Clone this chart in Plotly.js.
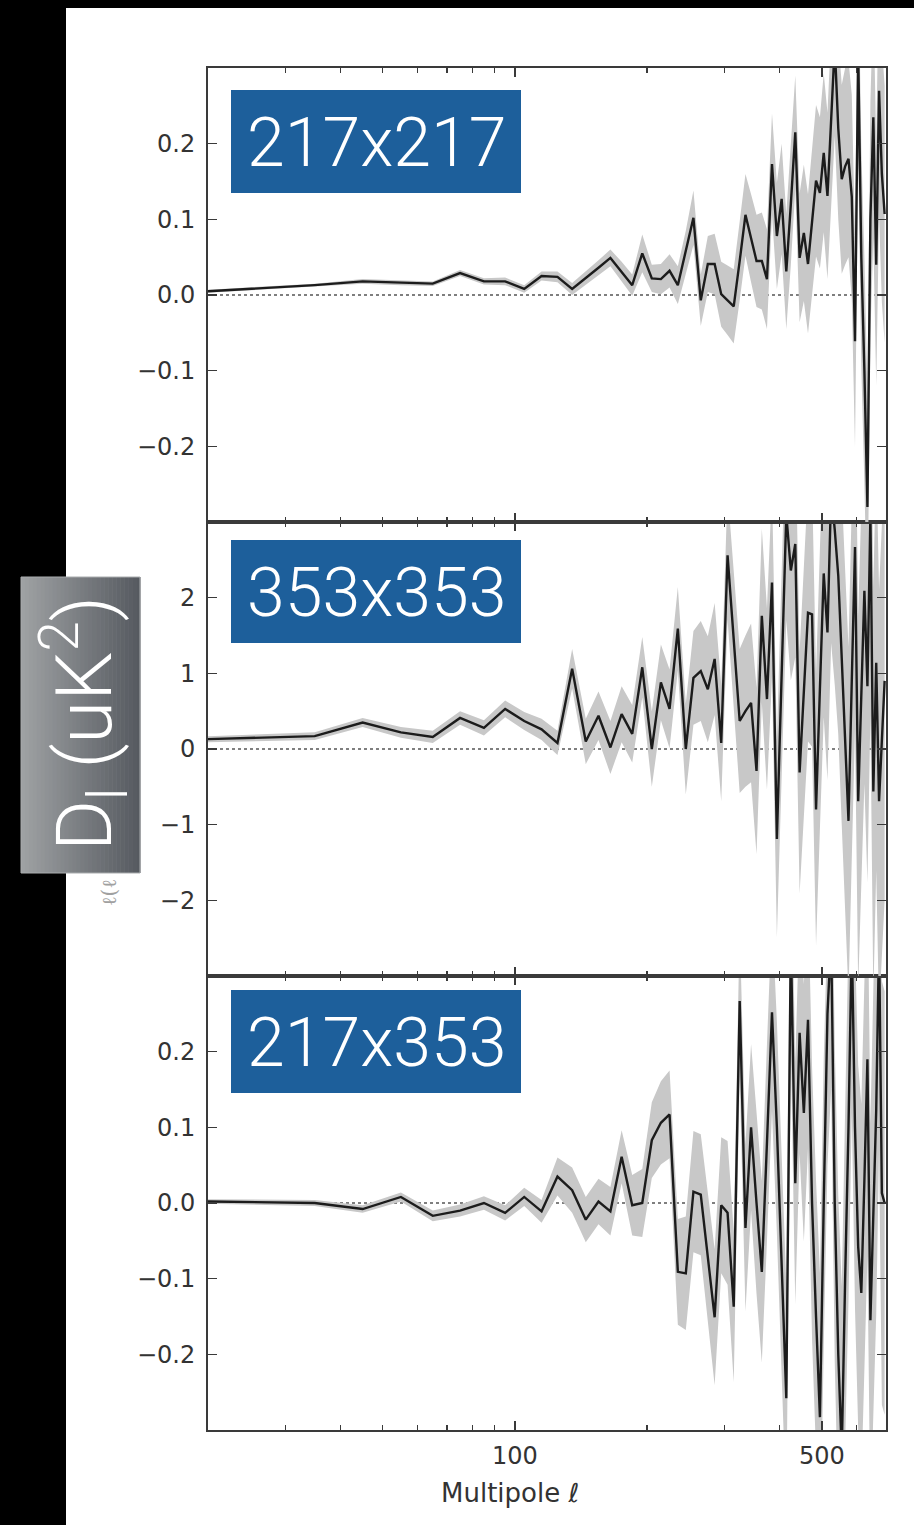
<!DOCTYPE html>
<html>
<head>
<meta charset="utf-8">
<script src="https://cdn.plot.ly/plotly-3.0.1.min.js"></script>
<style>
  html, body { margin: 0; padding: 0; background: #000; }
  #chart { width: 914px; height: 1525px; }
</style>
</head>
<body>
<div id="chart"></div>
<script>
// ---------- data ----------
const ell = [20, 35, 45, 55, 65, 75, 85, 95, 105, 115, 125, 135, 145, 155, 165, 175, 185, 195,
  205, 215, 225, 235, 245, 255, 265, 275, 285, 295, 305, 315, 325, 335, 345, 355, 365, 375,
  385, 395, 405, 415, 425, 435, 445, 455, 465, 475, 485, 495, 505, 515, 525, 535, 545, 555,
  565, 575, 585, 595, 605, 615, 625, 635, 645, 655, 665, 675, 685, 695];

const d217 = [0.005, 0.013, 0.018, 0.016, 0.015, 0.029, 0.018, 0.018, 0.008, 0.025, 0.024, 0.008,
  0.022, 0.036, 0.049, 0.031, 0.013, 0.055, 0.022, 0.021, 0.032, 0.013, 0.057, 0.102, -0.007,
  0.041, 0.041, 0.001, -0.007, -0.015, 0.045, 0.106, 0.075, 0.045, 0.045, 0.021, 0.173, 0.078,
  0.127, 0.031, 0.12, 0.215, 0.049, 0.082, 0.041, 0.095, 0.151, 0.135, 0.188, 0.131, 0.23, 0.33,
  0.22, 0.153, 0.17, 0.18, 0.13, -0.061, 0.32, 0.05, -0.1, -0.28, 0.1, 0.235, 0.04, 0.27, 0.16, 0.107];
const s217 = [0.002, 0.002, 0.003, 0.003, 0.003, 0.004, 0.004, 0.005, 0.005, 0.006, 0.007, 0.008,
  0.009, 0.010, 0.011, 0.013, 0.014, 0.025, 0.018, 0.020, 0.022, 0.025, 0.028, 0.036, 0.034,
  0.037, 0.040, 0.043, 0.046, 0.049, 0.052, 0.054, 0.058, 0.061, 0.064, 0.066, 0.067, 0.070,
  0.073, 0.076, 0.080, 0.075, 0.085, 0.090, 0.092, 0.095, 0.10, 0.10, 0.105, 0.11, 0.115, 0.12,
  0.12, 0.125, 0.13, 0.13, 0.135, 0.14, 0.14, 0.145, 0.15, 0.15, 0.155, 0.16, 0.16, 0.165, 0.17, 0.17];

const d353 = [0.13, 0.17, 0.35, 0.22, 0.16, 0.41, 0.28, 0.53, 0.37, 0.26, 0.08, 1.06, 0.10, 0.44,
  0.02, 0.46, 0.20, 1.08, 0.00, 0.88, 0.53, 1.59, 0.00, 0.94, 1.03, 0.79, 1.19, 0.08, 2.56, 1.45,
  0.37, 0.50, 0.61, -0.29, 1.76, 0.66, 2.20, -1.19, 0.90, 3.10, 2.36, 2.71, -0.31, 0.75, 1.80,
  1.78, -0.80, 0.80, 2.32, 1.54, 3.40, 2.90, 2.29, 1.20, 0.10, -0.95, 0.90, 2.67, -0.69, 0.70,
  2.09, 0.83, 3.10, -0.56, 1.14, -0.69, 0.20, 0.90];
const s353 = [0.04, 0.05, 0.06, 0.07, 0.08, 0.09, 0.10, 0.11, 0.12, 0.14, 0.16, 0.26, 0.30, 0.32,
  0.35, 0.37, 0.38, 0.40, 0.50, 0.50, 0.52, 0.55, 0.60, 0.62, 0.66, 0.70, 0.74, 0.77, 0.85, 0.90,
  0.95, 1.00, 1.05, 1.10, 1.15, 1.20, 1.25, 1.30, 1.35, 1.40, 1.45, 1.50, 1.60, 1.65, 1.70, 1.75,
  1.80, 1.85, 1.90, 1.95, 2.00, 2.05, 2.10, 2.20, 2.25, 2.30, 2.35, 2.40, 2.45, 2.50, 2.55, 2.60,
  2.65, 2.70, 2.75, 2.80, 2.85, 2.90];

const dX = [0.002, 0.0, -0.008, 0.008, -0.017, -0.01, 0.0, -0.013, 0.008, -0.011, 0.035, 0.017,
  -0.022, 0.002, -0.011, 0.061, -0.003, 0.0, 0.083, 0.106, 0.117, -0.091, -0.093, 0.015, 0.011,
  -0.07, -0.151, -0.003, -0.013, -0.137, 0.267, -0.033, 0.10, 0.0, -0.091, 0.08, 0.252, 0.10,
  -0.08, -0.258, 0.35, 0.026, 0.225, 0.119, 0.242, 0.0, -0.15, -0.283, 0.0, 0.25, 0.35, 0.0, -0.2,
  -0.33, -0.1, 0.1, 0.35, 0.1, -0.058, -0.119, 0.03, 0.19, -0.155, 0.0, 0.123, 0.35, 0.013, 0.0];
const sX = [0.003, 0.004, 0.005, 0.006, 0.007, 0.008, 0.009, 0.010, 0.012, 0.015, 0.025, 0.030,
  0.030, 0.030, 0.032, 0.035, 0.040, 0.045, 0.050, 0.055, 0.058, 0.070, 0.075, 0.080, 0.080,
  0.085, 0.090, 0.090, 0.095, 0.100, 0.100, 0.110, 0.110, 0.120, 0.120, 0.130, 0.130, 0.140,
  0.140, 0.150, 0.150, 0.160, 0.160, 0.170, 0.170, 0.180, 0.180, 0.190, 0.190, 0.200, 0.200,
  0.210, 0.210, 0.220, 0.220, 0.230, 0.230, 0.240, 0.240, 0.250, 0.250, 0.260, 0.260, 0.270,
  0.270, 0.280, 0.280, 0.280];

const panelLabels = ['217x217', '353x353', '217x353'];
const yTickVals1 = [-0.2, -0.1, 0, 0.1, 0.2];
const yTickText1 = ['\u22120.2', '\u22120.1', '0.0', '0.1', '0.2'];
const yTickVals2 = [-2, -1, 0, 1, 2];
const yTickText2 = ['\u22122', '\u22121', '0', '1', '2'];
const xTickVals = [100, 500];
const xTickText = ['100', '500'];
const xMinorVals = [30, 40, 50, 60, 70, 80, 90, 200, 300, 400, 600];
const yLabelText = 'D<sub>l</sub> (uK<sup>2</sup>)';
const xLabelText = 'Multipole \u2113';

// ---------- geometry helpers (pixels -> paper) ----------
const W = 914, H = 1525, L = 208, R = 886, T = 68, B = 1430;
const px = v => (v - L) / (R - L);
const py = v => (B - v) / (B - T);

const LINE = '#1c1c1c', BAND = '#c8c8c8', AX = '#3a3a3a';
const panels = [
  {d: d217, s: s217, xa: 'x3', ya: 'y'},
  {d: d353, s: s353, xa: 'x2', ya: 'y2'},
  {d: dX,   s: sX,   xa: 'x',  ya: 'y3'}
];

const traces = [];
panels.forEach(p => {
  const up = p.d.map((v, i) => v + p.s[i]);
  const lo = p.d.map((v, i) => v - p.s[i]);
  traces.push({x: ell, y: up, xaxis: p.xa, yaxis: p.ya, type: 'scatter', mode: 'lines',
    line: {width: 0, color: BAND}, hoverinfo: 'skip', showlegend: false});
  traces.push({x: ell, y: lo, xaxis: p.xa, yaxis: p.ya, type: 'scatter', mode: 'lines',
    fill: 'tonexty', fillcolor: BAND, line: {width: 0, color: BAND}, hoverinfo: 'skip', showlegend: false});
  traces.push({x: ell, y: p.d, xaxis: p.xa, yaxis: p.ya, type: 'scatter', mode: 'lines',
    line: {width: 2.4, color: LINE}, showlegend: false});
});

const tickFont = {family: 'DejaVu Sans, sans-serif', size: 24, color: '#333'};
function xAxis(extra) {
  return Object.assign({
    type: 'log', range: [Math.log10(20), Math.log10(700)],
    tickmode: 'array', tickvals: xTickVals, ticktext: xTickText,
    ticks: 'inside', ticklen: 9, tickwidth: 1.5, tickcolor: AX,
    minor: {tickmode: 'array', tickvals: xMinorVals, ticks: 'inside', ticklen: 5, tickwidth: 1.2, tickcolor: AX, showgrid: false},
    mirror: 'allticks', showline: true, linecolor: AX, linewidth: 2,
    showgrid: false, zeroline: false, tickfont: tickFont, ticklabelstandoff: 3
  }, extra);
}
function yAxis(extra) {
  return Object.assign({
    tickmode: 'array', ticks: 'inside', ticklen: 9, tickwidth: 1.5, tickcolor: AX,
    mirror: 'allticks', showline: true, linecolor: AX, linewidth: 2,
    showgrid: false, zeroline: false, tickfont: tickFont, ticklabelstandoff: 6
  }, extra);
}

const shapes = [];
// white page area (black border strips left and top)
shapes.push({type: 'rect', xref: 'paper', yref: 'paper', layer: 'below',
  x0: px(66), x1: px(W + 5), y0: py(H + 5), y1: py(8), fillcolor: '#ffffff', line: {width: 0}});
// gradient label box
const gx0 = 21, gx1 = 140, gy0 = 577, gy1 = 873, nStrip = 30;
const cL = [158, 161, 163], cR = [86, 90, 96];
for (let i = 0; i < nStrip; i++) {
  const t = i / (nStrip - 1);
  const c = cL.map((v, k) => Math.round(v + (cR[k] - v) * t));
  const a = gx0 + (gx1 - gx0) * i / nStrip, b = gx0 + (gx1 - gx0) * (i + 1) / nStrip + 0.6;
  shapes.push({type: 'rect', xref: 'paper', yref: 'paper', layer: 'below',
    x0: px(a), x1: px(b), y0: py(gy1), y1: py(gy0),
    fillcolor: `rgb(${c[0]},${c[1]},${c[2]})`, line: {width: 0}});
}
shapes.push({type: 'rect', xref: 'paper', yref: 'paper', layer: 'below',
  x0: px(gx0), x1: px(gx1), y0: py(gy1), y1: py(gy0), line: {width: 1, color: '#a9acae'}});
// blue label boxes
const boxTops = [90, 540, 990];
boxTops.forEach(t => shapes.push({type: 'rect', xref: 'paper', yref: 'paper', layer: 'above',
  x0: px(231), x1: px(521), y0: py(t + 103), y1: py(t), fillcolor: '#1d5f9b', line: {width: 0}}));
// dotted zero lines
['y', 'y2', 'y3'].forEach((ya, i) => shapes.push({type: 'line', xref: ['x3', 'x2', 'x'][i] + ' domain', yref: ya,
  x0: 0, x1: 1, y0: 0, y1: 0, layer: 'below', line: {color: '#555', width: 1.5, dash: 'dot'}}));

const annotations = [];
boxTops.forEach((t, i) => annotations.push({xref: 'paper', yref: 'paper', x: px(376), y: py(t + 53),
  xanchor: 'center', yanchor: 'middle', showarrow: false, text: panelLabels[i],
  font: {family: 'Roboto, Lato, sans-serif', weight: 300, size: 68, color: '#ffffff'}}));
annotations.push({xref: 'paper', yref: 'paper', x: px(109), y: py(893), xanchor: 'center', yanchor: 'middle',
  showarrow: false, textangle: -90, text: '\u2113(\u2113', font: {family: 'DejaVu Serif, serif', size: 20, color: '#a0a0a0'}});
annotations.push({xref: 'paper', yref: 'paper', x: px(83), y: py(724), xanchor: 'center', yanchor: 'middle',
  showarrow: false, textangle: -90, text: yLabelText,
  font: {family: 'Roboto, Lato, sans-serif', weight: 300, size: 78, color: '#ffffff'}});
annotations.push({xref: 'paper', yref: 'paper', x: px(510), y: py(1493), xanchor: 'center', yanchor: 'middle',
  showarrow: false, text: xLabelText, font: {family: 'DejaVu Sans, sans-serif', size: 26, color: '#333'}});

const layout = {
  width: W, height: H, margin: {l: L, r: W - R, t: T, b: H - B, pad: 0},
  paper_bgcolor: '#000000', plot_bgcolor: '#ffffff', showlegend: false,
  xaxis: xAxis({anchor: 'y3', domain: [0, 1]}),
  xaxis2: xAxis({anchor: 'y2', domain: [0, 1], matches: 'x', showticklabels: false}),
  xaxis3: xAxis({anchor: 'y', domain: [0, 1], matches: 'x', showticklabels: false}),
  yaxis: yAxis({anchor: 'x3', domain: [2 / 3, 1], range: [-0.3, 0.3], tickvals: yTickVals1, ticktext: yTickText1}),
  yaxis2: yAxis({anchor: 'x2', domain: [1 / 3, 2 / 3], range: [-3, 3], tickvals: yTickVals2, ticktext: yTickText2}),
  yaxis3: yAxis({anchor: 'x', domain: [0, 1 / 3], range: [-0.3, 0.3], tickvals: yTickVals1, ticktext: yTickText1}),
  shapes: shapes, annotations: annotations
};

Plotly.newPlot('chart', traces, layout, {staticPlot: true, displayModeBar: false});
</script>
</body>
</html>
